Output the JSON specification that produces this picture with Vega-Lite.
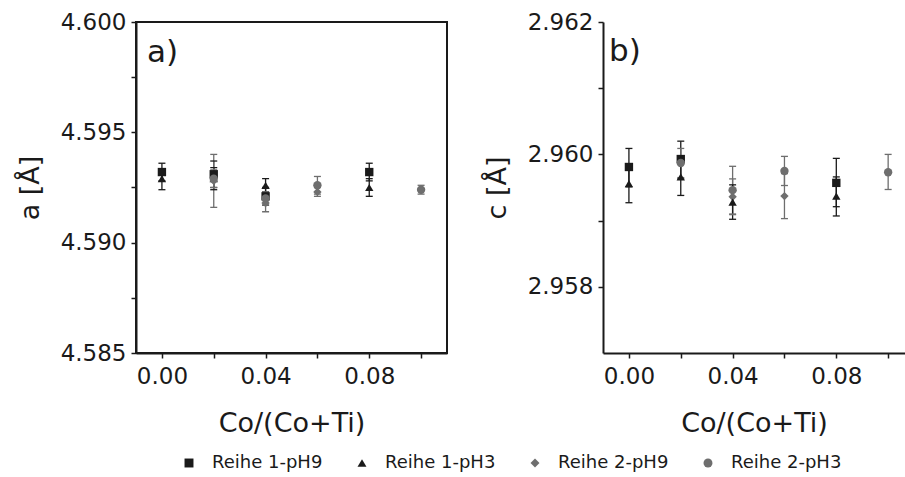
{
  "$schema": "https://vega.github.io/schema/vega-lite/v6.json",
  "background": "white",
  "padding": {"left": 15, "top": 10, "right": 0, "bottom": 5},
  "config": {
    "font": "DejaVu Sans",
    "view": {"stroke": "#1a1a1a", "strokeWidth": 2},
    "axis": {
      "grid": false,
      "domainColor": "#1a1a1a", "domainWidth": 2,
      "tickColor": "#1a1a1a", "tickWidth": 1.5, "tickSize": 5,
      "labelFont": "DejaVu Sans", "labelFontSize": 23, "labelColor": "#1a1a1a",
      "titleFont": "DejaVu Sans", "titleFontSize": 27, "titleFontWeight": "normal", "titleColor": "#1a1a1a"
    },
    "legend": {
      "orient": "none", "legendX": 44, "legendY": 432, "direction": "horizontal", "columns": 4,
      "labelFont": "DejaVu Sans", "labelFontSize": 18, "labelColor": "#1a1a1a",
      "symbolSize": 80, "symbolStrokeWidth": 0, "symbolType": "circle", "columnPadding": 30, "labelOffset": 14, "padding": 0
    }
  },
  "datasets": {
    "a": [
      {"x": 0.00, "s": "Reihe 1-pH9", "v": 4.5932, "lo": 4.5928, "hi": 4.5936},
      {"x": 0.00, "s": "Reihe 1-pH3", "v": 4.5929, "lo": 4.5924, "hi": 4.5933},
      {"x": 0.02, "s": "Reihe 1-pH9", "v": 4.5931, "lo": 4.5925, "hi": 4.5937},
      {"x": 0.02, "s": "Reihe 1-pH3", "v": 4.5929, "lo": 4.5924, "hi": 4.5934},
      {"x": 0.02, "s": "Reihe 2-pH9", "v": 4.5928, "lo": 4.5916, "hi": 4.5940},
      {"x": 0.02, "s": "Reihe 2-pH3", "v": 4.5929, "lo": 4.5925, "hi": 4.5933},
      {"x": 0.04, "s": "Reihe 1-pH9", "v": 4.5921, "lo": 4.5917, "hi": 4.5925},
      {"x": 0.04, "s": "Reihe 1-pH3", "v": 4.5926, "lo": 4.5923, "hi": 4.5929},
      {"x": 0.04, "s": "Reihe 2-pH9", "v": 4.5918, "lo": 4.5914, "hi": 4.5922},
      {"x": 0.04, "s": "Reihe 2-pH3", "v": 4.5920, "lo": 4.5917, "hi": 4.5923},
      {"x": 0.06, "s": "Reihe 2-pH9", "v": 4.5923, "lo": 4.5921, "hi": 4.5925},
      {"x": 0.06, "s": "Reihe 2-pH3", "v": 4.5926, "lo": 4.5922, "hi": 4.5930},
      {"x": 0.08, "s": "Reihe 1-pH9", "v": 4.5932, "lo": 4.5928, "hi": 4.5936},
      {"x": 0.08, "s": "Reihe 1-pH3", "v": 4.5925, "lo": 4.5921, "hi": 4.5929},
      {"x": 0.10, "s": "Reihe 2-pH3", "v": 4.5924, "lo": 4.5922, "hi": 4.5926}
    ],
    "c": [
      {"x": 0.00, "s": "Reihe 1-pH9", "v": 2.95981, "lo": 2.95951, "hi": 2.96009},
      {"x": 0.00, "s": "Reihe 1-pH3", "v": 2.95956, "lo": 2.95927, "hi": 2.95985},
      {"x": 0.02, "s": "Reihe 1-pH9", "v": 2.95993, "lo": 2.95963, "hi": 2.96020},
      {"x": 0.02, "s": "Reihe 2-pH3", "v": 2.95987, "lo": 2.95965, "hi": 2.96009},
      {"x": 0.02, "s": "Reihe 1-pH3", "v": 2.95966, "lo": 2.95938, "hi": 2.95994},
      {"x": 0.04, "s": "Reihe 2-pH3", "v": 2.95946, "lo": 2.95910, "hi": 2.95982},
      {"x": 0.04, "s": "Reihe 2-pH9", "v": 2.95936, "lo": 2.95909, "hi": 2.95963},
      {"x": 0.04, "s": "Reihe 1-pH3", "v": 2.95928, "lo": 2.95902, "hi": 2.95954},
      {"x": 0.06, "s": "Reihe 2-pH3", "v": 2.95975, "lo": 2.95953, "hi": 2.95997},
      {"x": 0.06, "s": "Reihe 2-pH9", "v": 2.95937, "lo": 2.95903, "hi": 2.95971},
      {"x": 0.08, "s": "Reihe 1-pH9", "v": 2.95957, "lo": 2.95921, "hi": 2.95994},
      {"x": 0.08, "s": "Reihe 1-pH3", "v": 2.95937, "lo": 2.95907, "hi": 2.95966},
      {"x": 0.10, "s": "Reihe 2-pH3", "v": 2.95973, "lo": 2.95947, "hi": 2.96000}
    ]
  },
  "spacing": 35,
  "hconcat": [
    {
      "width": 311,
      "height": 331,
      "encoding": {
        "x": {"field": "x", "type": "quantitative", "title": "Co/(Co+Ti)",
          "scale": {"domain": [-0.01, 0.11], "nice": false, "zero": false},
          "axis": {"values": [0, 0.02, 0.04, 0.06, 0.08, 0.1], "labelExpr": "round(datum.value*100) % 4 == 0 ? format(datum.value, '.2f') : ''", "labelPadding": 7, "titlePadding": 22, "labelFlush": false}},
        "color": {"field": "s", "type": "nominal", "title": null,
          "scale": {"domain": ["Reihe 1-pH9", "Reihe 1-pH3", "Reihe 2-pH9", "Reihe 2-pH3"], "range": ["#1a1a1a", "#1a1a1a", "#6e6e6e", "#6e6e6e"]}}
      },
      "layer": [
        {
          "data": {"name": "a"},
          "mark": {"type": "rule", "strokeWidth": 1.3},
          "encoding": {
            "y": {"field": "lo", "type": "quantitative", "title": "a [Å]",
              "scale": {"domain": [4.585, 4.6], "nice": false, "zero": false},
              "axis": {"values": [4.585, 4.5875, 4.59, 4.5925, 4.595, 4.5975, 4.6], "labelExpr": "abs(datum.value*200 - round(datum.value*200)) < 0.001 ? format(datum.value, '.3f') : ''", "labelPadding": 5, "titlePadding": 16, "labelFlush": false}},
            "y2": {"field": "hi"}
          }
        },
        {
          "data": {"name": "a"},
          "mark": {"type": "tick", "orient": "horizontal", "size": 7, "thickness": 1.3, "opacity": 1},
          "encoding": {"y": {"field": "lo", "type": "quantitative"}}
        },
        {
          "data": {"name": "a"},
          "mark": {"type": "tick", "orient": "horizontal", "size": 7, "thickness": 1.3, "opacity": 1},
          "encoding": {"y": {"field": "hi", "type": "quantitative"}}
        },
        {
          "data": {"name": "a"},
          "mark": {"type": "point", "filled": true, "opacity": 1, "size": 70},
          "encoding": {
            "y": {"field": "v", "type": "quantitative"},
            "shape": {"field": "s", "type": "nominal", "title": null,
              "scale": {"domain": ["Reihe 1-pH9", "Reihe 1-pH3", "Reihe 2-pH9", "Reihe 2-pH3"], "range": ["square", "triangle-up", "diamond", "circle"]}}
          }
        },
        {
          "data": {"values": [{"x": -0.0058, "y": 4.5982, "t": "a)"}]},
          "mark": {"type": "text", "fontSize": 31, "align": "left", "baseline": "alphabetic"},
          "encoding": {
            "y": {"field": "y", "type": "quantitative"},
            "text": {"field": "t"},
            "color": {"value": "#1a1a1a"}
          }
        }
      ]
    },
    {
      "width": 302,
      "height": 331,
      "view": {"stroke": null},
      "encoding": {
        "x": {"field": "x", "type": "quantitative", "title": "Co/(Co+Ti)",
          "scale": {"domain": [-0.01, 0.1065], "nice": false, "zero": false},
          "axis": {"values": [0, 0.02, 0.04, 0.06, 0.08, 0.1], "labelExpr": "round(datum.value*100) % 4 == 0 ? format(datum.value, '.2f') : ''", "labelPadding": 7, "titlePadding": 22, "labelFlush": false}},
        "color": {"field": "s", "type": "nominal", "title": null}
      },
      "layer": [
        {
          "data": {"name": "c"},
          "mark": {"type": "rule", "strokeWidth": 1.3},
          "encoding": {
            "y": {"field": "lo", "type": "quantitative", "title": "c [Å]",
              "scale": {"domain": [2.957, 2.962], "nice": false, "zero": false},
              "axis": {"values": [2.958, 2.959, 2.96, 2.961, 2.962], "labelExpr": "abs(datum.value*500 - round(datum.value*500)) < 0.01 ? format(datum.value, '.3f') : ''", "labelPadding": 5, "titlePadding": 16, "labelFlush": false}},
            "y2": {"field": "hi"}
          }
        },
        {
          "data": {"name": "c"},
          "mark": {"type": "tick", "orient": "horizontal", "size": 7, "thickness": 1.3, "opacity": 1},
          "encoding": {"y": {"field": "lo", "type": "quantitative"}}
        },
        {
          "data": {"name": "c"},
          "mark": {"type": "tick", "orient": "horizontal", "size": 7, "thickness": 1.3, "opacity": 1},
          "encoding": {"y": {"field": "hi", "type": "quantitative"}}
        },
        {
          "data": {"name": "c"},
          "mark": {"type": "point", "filled": true, "opacity": 1, "size": 70},
          "encoding": {
            "y": {"field": "v", "type": "quantitative"},
            "shape": {"field": "s", "type": "nominal", "title": null}
          }
        },
        {
          "mark": {"type": "rule", "strokeWidth": 2},
          "encoding": {"y": {"datum": 2.962}, "x": {"value": 0}, "x2": {"value": 302}, "color": {"value": "#1a1a1a"}}
        },
        {
          "data": {"values": [{"x": -0.0077, "y": 2.96141, "t": "b)"}]},
          "mark": {"type": "text", "fontSize": 31, "align": "left", "baseline": "alphabetic"},
          "encoding": {
            "y": {"field": "y", "type": "quantitative"},
            "text": {"field": "t"},
            "color": {"value": "#1a1a1a"}
          }
        }
      ]
    }
  ]
}
